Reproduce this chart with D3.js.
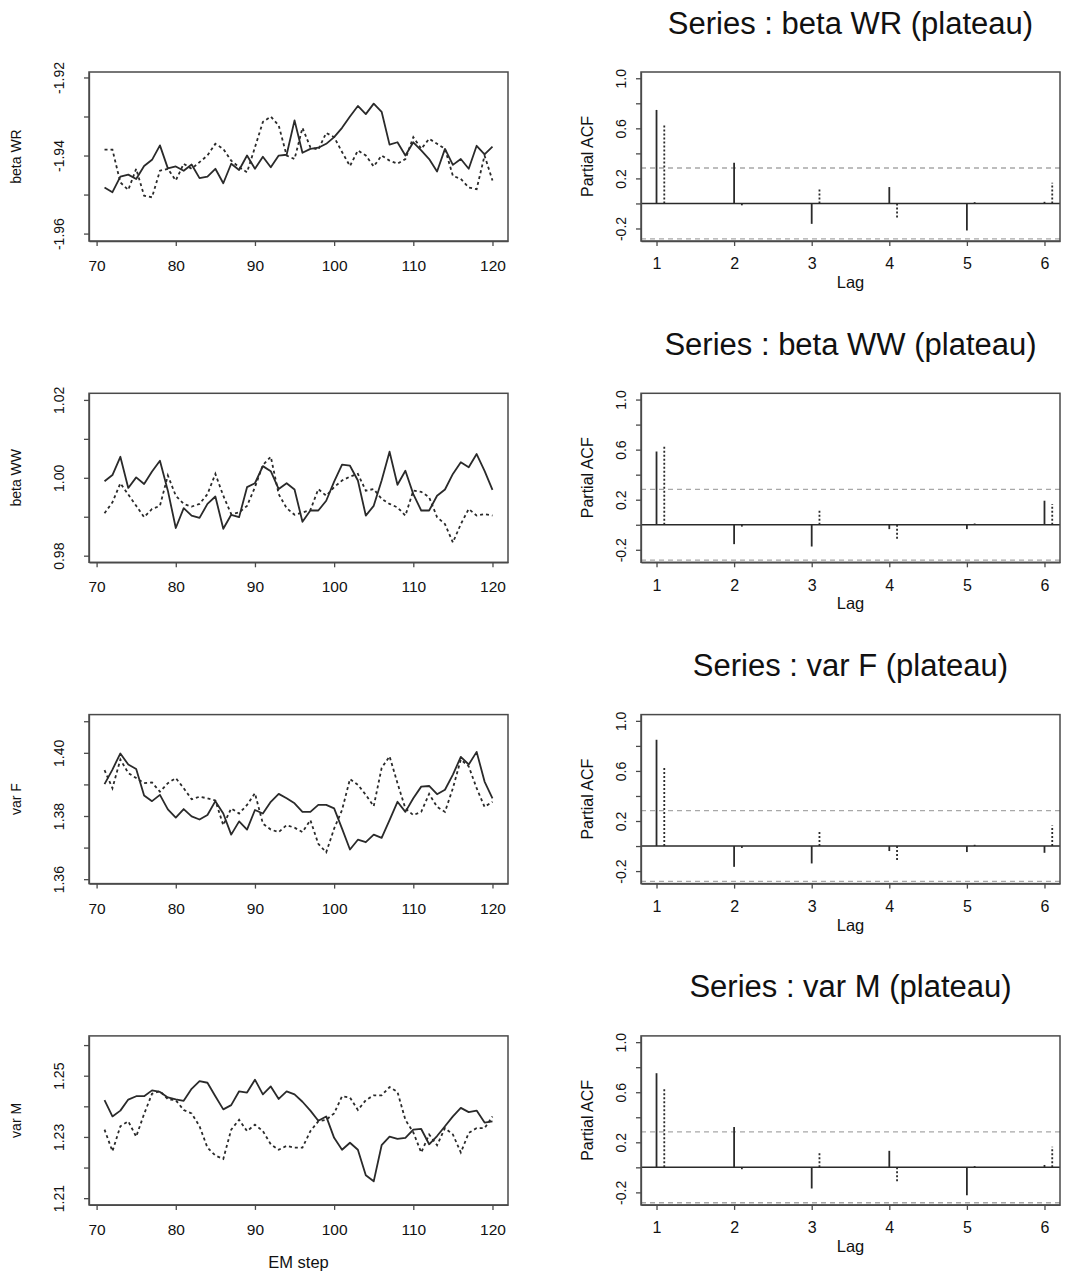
<!DOCTYPE html>
<html>
<head>
<meta charset="utf-8">
<script src="https://cdn.jsdelivr.net/npm/d3@7"></script>
<style>
  html, body { margin: 0; padding: 0; background: #fff; }
  svg { display: block; font-family: "Liberation Sans", Arial, Helvetica, sans-serif; }
</style>
</head>
<body>
<svg id="chart" width="1071" height="1276"></svg>
<script>
// ---------------- DATA ----------------
const emSteps = [71,72,73,74,75,76,77,78,79,80,81,82,83,84,85,86,87,88,89,90,
  91,92,93,94,95,96,97,98,99,100,101,102,103,104,105,106,107,108,109,110,
  111,112,113,114,115,116,117,118,119,120];

const seriesNames = ["beta WR", "beta WW", "var F", "var M"];
const pacfTitles = ["Series : beta WR (plateau)", "Series : beta WW (plateau)",
  "Series : var F (plateau)", "Series : var M (plateau)"];

const betaWRSolid = [-1.9482,-1.9494,-1.9454,-1.9449,-1.9460,-1.9427,-1.9411,-1.9374,-1.9433,-1.9428,
  -1.9439,-1.9423,-1.9458,-1.9454,-1.9434,-1.9471,-1.9421,-1.9437,-1.9400,-1.9434,
  -1.9403,-1.9430,-1.9400,-1.9398,-1.9310,-1.9393,-1.9383,-1.9380,-1.9370,-1.9353,
  -1.9329,-1.9300,-1.9273,-1.9294,-1.9267,-1.9288,-1.9372,-1.9366,-1.9400,-1.9366,
  -1.9387,-1.9409,-1.9441,-1.9383,-1.9424,-1.9409,-1.9434,-1.9375,-1.9397,-1.9377];
const betaWRDotted = [-1.9385,-1.9385,-1.9469,-1.9488,-1.9434,-1.9503,-1.9507,-1.9439,-1.9434,-1.9464,
  -1.9421,-1.9434,-1.9417,-1.9400,-1.9370,-1.9383,-1.9413,-1.9430,-1.9443,-1.9379,
  -1.9314,-1.9300,-1.9323,-1.9400,-1.9409,-1.9329,-1.9379,-1.9385,-1.9342,-1.9353,
  -1.9391,-1.9427,-1.9387,-1.9400,-1.9428,-1.9400,-1.9413,-1.9421,-1.9409,-1.9353,
  -1.9383,-1.9357,-1.9370,-1.9383,-1.9452,-1.9460,-1.9482,-1.9486,-1.9400,-1.9464];

const betaWWSolid = [0.9991,1.0007,1.0054,0.9974,1.0001,0.9984,1.0016,1.0044,0.9967,0.9871,
  0.9922,0.9903,0.9897,0.9933,0.9952,0.9869,0.9905,0.9899,0.9976,0.9986,
  1.0030,1.0017,0.9971,0.9986,0.9970,0.9887,0.9916,0.9916,0.9941,0.9990,
  1.0034,1.0031,0.9993,0.9903,0.9928,0.9993,1.0067,0.9982,1.0018,0.9958,
  0.9916,0.9916,0.9954,0.9970,1.0010,1.0040,1.0027,1.0061,1.0018,0.9969];
const betaWWDotted = [0.9909,0.9937,0.9986,0.9957,0.9928,0.9899,0.9920,0.9928,1.0006,0.9954,
  0.9933,0.9926,0.9933,0.9958,1.0010,0.9954,0.9907,0.9911,0.9928,0.9976,
  1.0033,1.0054,0.9958,0.9922,0.9905,0.9911,0.9917,0.9971,0.9954,0.9976,
  0.9993,1.0003,1.0010,0.9967,0.9971,0.9946,0.9933,0.9924,0.9903,0.9967,
  0.9964,0.9950,0.9899,0.9881,0.9834,0.9881,0.9920,0.9903,0.9907,0.9903];

const varFSolid = [1.3901,1.3947,1.3998,1.3963,1.3949,1.3865,1.3847,1.3867,1.3821,1.3795,
  1.3822,1.3799,1.3789,1.3803,1.3847,1.3808,1.3741,1.3783,1.3757,1.3819,
  1.3808,1.3845,1.3870,1.3856,1.3840,1.3813,1.3813,1.3835,1.3835,1.3824,
  1.3760,1.3694,1.3725,1.3717,1.3741,1.3731,1.3787,1.3845,1.3813,1.3856,
  1.3893,1.3895,1.3869,1.3883,1.3931,1.3987,1.3963,1.4003,1.3909,1.3856];
const varFDotted = [1.3945,1.3888,1.3979,1.3936,1.3920,1.3904,1.3906,1.3877,1.3904,1.3920,
  1.3888,1.3853,1.3861,1.3856,1.3849,1.3771,1.3824,1.3808,1.3835,1.3872,
  1.3776,1.3757,1.3749,1.3771,1.3763,1.3749,1.3787,1.3712,1.3685,1.3760,
  1.3819,1.3917,1.3899,1.3867,1.3831,1.3952,1.3989,1.3904,1.3824,1.3803,
  1.3813,1.3870,1.3829,1.3813,1.3888,1.3979,1.3957,1.3888,1.3829,1.3845];

const varMSolid = [1.2420,1.2367,1.2386,1.2422,1.2433,1.2433,1.2452,1.2447,1.2429,1.2423,
  1.2418,1.2457,1.2482,1.2477,1.2433,1.2390,1.2404,1.2449,1.2445,1.2487,
  1.2439,1.2465,1.2424,1.2449,1.2439,1.2415,1.2386,1.2353,1.2367,1.2297,
  1.2258,1.2281,1.2258,1.2175,1.2155,1.2273,1.2301,1.2294,1.2297,1.2324,
  1.2326,1.2276,1.2303,1.2335,1.2367,1.2395,1.2381,1.2386,1.2347,1.2351];
const varMDotted = [1.2324,1.2253,1.2335,1.2351,1.2301,1.2375,1.2441,1.2450,1.2423,1.2420,
  1.2388,1.2377,1.2335,1.2265,1.2239,1.2228,1.2324,1.2356,1.2319,1.2340,
  1.2319,1.2276,1.2258,1.2271,1.2265,1.2265,1.2319,1.2351,1.2356,1.2377,
  1.2433,1.2429,1.2388,1.2420,1.2436,1.2436,1.2463,1.2447,1.2356,1.2315,
  1.2249,1.2308,1.2273,1.2329,1.2308,1.2249,1.2313,1.2329,1.2329,1.2367];

const solidSeries = [betaWRSolid, betaWWSolid, varFSolid, varMSolid];
const dottedSeries = [betaWRDotted, betaWWDotted, varFDotted, varMDotted];

// y-axis ranges and ticks of the trace plots
const traceYDomains = [[-1.9619, -1.9186], [0.9783, 1.0217], [1.3586, 1.4121], [1.2078, 1.2630]];
const traceYTicks = [[-1.96,-1.95,-1.94,-1.93,-1.92], [0.98,0.99,1.00,1.01,1.02],
  [1.36,1.37,1.38,1.39,1.40,1.41], [1.21,1.22,1.23,1.24,1.25,1.26]];
const traceYLabels = [[-1.96,-1.94,-1.92], [0.98,1.00,1.02], [1.36,1.38,1.40], [1.21,1.23,1.25]];
const traceXDomain = [69.04, 121.96];
const traceXTicks = [70, 80, 90, 100, 110, 120];

// partial autocorrelations
const lags = [1, 2, 3, 4, 5, 6];
const pacfBetaWR = [0.747, 0.325, -0.163, 0.131, -0.216, 0.013];
const pacfBetaWW = [0.585, -0.155, -0.174, -0.035, -0.035, 0.192];
const pacfVarF  = [0.849, -0.166, -0.139, -0.040, -0.048, -0.054];
const pacfVarM  = [0.752, 0.322, -0.169, 0.132, -0.223, 0.019];
const pacfSolid = [pacfBetaWR, pacfBetaWW, pacfVarF, pacfVarM];
const pacfDotted = [0.635, -0.015, 0.120, -0.115, 0.010, 0.165];
const confLimit = 0.283;
const pacfYDomain = [-0.30, 1.05];
const pacfXDomain = [0.8, 6.2];
const pacfYTicks = [-0.2, 0.0, 0.2, 0.4, 0.6, 0.8, 1.0];
const pacfYLabels = [-0.2, 0.2, 0.6, 1.0];

// ---------------- LAYOUT ----------------
const svg = d3.select("#chart");
const leftX = [89, 508], rightX = [641, 1060];
const rowTop0 = 72, rowStep = 321.3, boxH = 169;
const lineCol = "#2a2a2a", boxCol = "#4a4a4a", textCol = "#111";

const hyphen = s => s.replace("\u2212", "-");
const fmt2 = d => hyphen(d3.format(".2f")(d));
const fmt1 = d => hyphen(d3.format(".1f")(d));
const fmtInt = d3.format("d");

function styleAxis(g) {
  g.attr("font-size", null);
  g.selectAll("path.domain").attr("stroke", boxCol).attr("stroke-width", 1.3);
  g.selectAll(".tick line").attr("stroke", boxCol).attr("stroke-width", 1.3);
  g.selectAll("text").attr("fill", textCol).style("font-family", '"Liberation Sans", Arial, sans-serif');
}

for (let i = 0; i < 4; i++) {
  const top = rowTop0 + i * rowStep, bot = top + boxH;

  // ----- left: trace plot -----
  const x = d3.scaleLinear().domain(traceXDomain).range(leftX);
  const y = d3.scaleLinear().domain(traceYDomains[i]).range([bot, top]);
  const gL = svg.append("g");

  const line = d3.line().x((d, k) => x(emSteps[k])).y(d => y(d));
  gL.append("path").datum(dottedSeries[i]).attr("d", line)
    .attr("fill", "none").attr("stroke", lineCol).attr("stroke-width", 1.8)
    .attr("stroke-dasharray", "3,3");
  gL.append("path").datum(solidSeries[i]).attr("d", line)
    .attr("fill", "none").attr("stroke", lineCol).attr("stroke-width", 1.8)
    .attr("stroke-linejoin", "round");

  gL.append("rect").attr("x", leftX[0]).attr("y", top)
    .attr("width", leftX[1] - leftX[0]).attr("height", boxH)
    .attr("fill", "none").attr("stroke", boxCol).attr("stroke-width", 1.5);

  const xa = gL.append("g").attr("transform", `translate(0,${bot})`)
    .call(d3.axisBottom(x).tickValues(traceXTicks).tickFormat(fmtInt)
      .tickSize(5).tickSizeOuter(0).tickPadding(14));
  xa.selectAll("text").style("font-size", "15.5px");
  styleAxis(xa);

  const labSet = traceYLabels[i];
  const ya = gL.append("g").attr("transform", `translate(${leftX[0]},0)`)
    .call(d3.axisLeft(y).tickValues(traceYTicks[i]).tickSize(5).tickSizeOuter(0)
      .tickFormat(d => labSet.some(v => Math.abs(v - d) < 1e-9) ? fmt2(d) : ""));
  ya.selectAll("text").attr("transform", "rotate(-90)").attr("x", 0).attr("y", -25)
    .attr("dy", 0).attr("text-anchor", "middle").style("font-size", "14px");
  styleAxis(ya);

  gL.append("text").attr("transform", `translate(21,${(top + bot) / 2}) rotate(-90)`)
    .attr("text-anchor", "middle").attr("fill", textCol).style("font-size", "14px")
    .text(seriesNames[i]);

  if (i === 3) {
    gL.append("text").attr("x", (leftX[0] + leftX[1]) / 2).attr("y", bot + 63)
      .attr("text-anchor", "middle").attr("fill", textCol).style("font-size", "16.5px")
      .text("EM step");
  }

  // ----- right: partial ACF -----
  const xr = d3.scaleLinear().domain(pacfXDomain).range(rightX);
  const yr = d3.scaleLinear().domain(pacfYDomain).range([bot, top]);
  const gR = svg.append("g");

  // confidence limits
  [confLimit, -confLimit].forEach(c => {
    gR.append("line").attr("x1", rightX[0]).attr("x2", rightX[1])
      .attr("y1", yr(c)).attr("y2", yr(c))
      .attr("stroke", "#a8a8a8").attr("stroke-width", 1.3).attr("stroke-dasharray", "5,4");
  });
  // zero line
  gR.append("line").attr("x1", rightX[0]).attr("x2", rightX[1])
    .attr("y1", yr(0)).attr("y2", yr(0)).attr("stroke", lineCol).attr("stroke-width", 1.5);

  gR.selectAll("line.solidbar").data(pacfSolid[i]).enter().append("line")
    .attr("class", "solidbar")
    .attr("x1", (d, k) => xr(lags[k])).attr("x2", (d, k) => xr(lags[k]))
    .attr("y1", yr(0)).attr("y2", d => yr(d))
    .attr("stroke", lineCol).attr("stroke-width", 1.8);
  gR.selectAll("line.dotbar").data(pacfDotted).enter().append("line")
    .attr("class", "dotbar")
    .attr("x1", (d, k) => xr(lags[k] + 0.1)).attr("x2", (d, k) => xr(lags[k] + 0.1))
    .attr("y1", yr(0)).attr("y2", d => yr(d))
    .attr("stroke", lineCol).attr("stroke-width", 1.8).attr("stroke-dasharray", "2,2");

  gR.append("rect").attr("x", rightX[0]).attr("y", top)
    .attr("width", rightX[1] - rightX[0]).attr("height", boxH)
    .attr("fill", "none").attr("stroke", boxCol).attr("stroke-width", 1.5);

  const xra = gR.append("g").attr("transform", `translate(0,${bot})`)
    .call(d3.axisBottom(xr).tickValues(lags).tickFormat(fmtInt)
      .tickSize(5).tickSizeOuter(0).tickPadding(12));
  xra.selectAll("text").style("font-size", "16px");
  styleAxis(xra);

  const yra = gR.append("g").attr("transform", `translate(${rightX[0]},0)`)
    .call(d3.axisLeft(yr).tickValues(pacfYTicks).tickSize(5).tickSizeOuter(0)
      .tickFormat(d => pacfYLabels.some(v => Math.abs(v - d) < 1e-9) ? fmt1(d) : ""));
  yra.selectAll("text").attr("transform", "rotate(-90)").attr("x", 0).attr("y", -15)
    .attr("dy", 0).attr("text-anchor", "middle").style("font-size", "14px");
  styleAxis(yra);

  gR.append("text").attr("transform", `translate(593,${(top + bot) / 2}) rotate(-90)`)
    .attr("text-anchor", "middle").attr("fill", textCol).style("font-size", "16px")
    .text("Partial ACF");
  gR.append("text").attr("x", (rightX[0] + rightX[1]) / 2).attr("y", bot + 47)
    .attr("text-anchor", "middle").attr("fill", textCol).style("font-size", "16.5px")
    .text("Lag");
  gR.append("text").attr("x", (rightX[0] + rightX[1]) / 2).attr("y", top - 38.5)
    .attr("text-anchor", "middle").attr("fill", textCol).style("font-size", "31px")
    .text(pacfTitles[i]);
}
</script>
</body>
</html>
